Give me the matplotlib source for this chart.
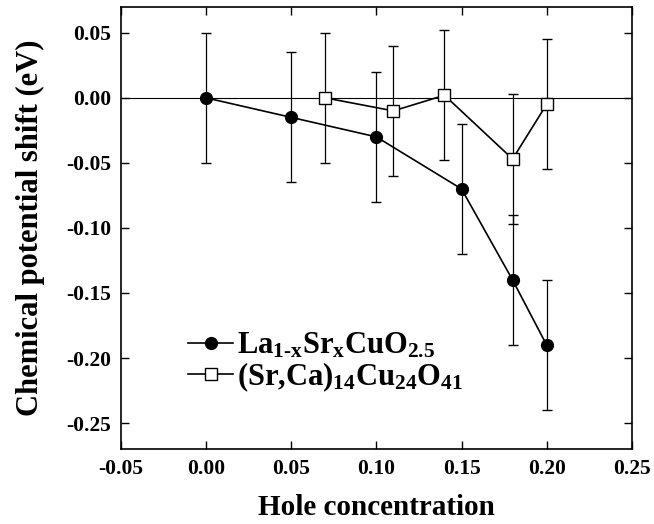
import matplotlib
matplotlib.use("Agg")
import matplotlib.pyplot as plt

plt.rcParams["font.family"] = ["Liberation Serif", "DejaVu Serif"]
plt.rcParams["font.weight"] = "bold"
plt.rcParams["mathtext.fontset"] = "custom"
plt.rcParams["mathtext.rm"] = "Liberation Serif:bold"
plt.rcParams["mathtext.it"] = "Liberation Serif:bold"
plt.rcParams["mathtext.bf"] = "Liberation Serif:bold"

# La(1-x)Sr(x)CuO2.5
lsco_x = [0.00, 0.05, 0.10, 0.15, 0.18, 0.20]
lsco_mu = [0.000, -0.015, -0.030, -0.070, -0.140, -0.190]
lsco_err = [0.05, 0.05, 0.05, 0.05, 0.05, 0.05]

# (Sr,Ca)14Cu24O41
ladder_x = [0.07, 0.11, 0.14, 0.18, 0.20]
ladder_mu = [0.000, -0.010, 0.002, -0.047, -0.005]
ladder_err = [0.05, 0.05, 0.05, 0.05, 0.05]

xticks = [-0.05, 0.00, 0.05, 0.10, 0.15, 0.20, 0.25]
yticks = [0.05, 0.00, -0.05, -0.10, -0.15, -0.20, -0.25]

fig = plt.figure(figsize=(6.54, 5.24), dpi=100)
ax = fig.add_axes([0.185, 0.143, 0.781, 0.844])

ax.axhline(0, color="black", lw=0.8, zorder=1)

eb1 = ax.errorbar(lsco_x, lsco_mu, yerr=lsco_err, color="black", lw=1.2,
                  marker="o", ms=8.5, mfc="black", mec="black",
                  capsize=3.5, capthick=1.0, elinewidth=0.9, zorder=3)
eb2 = ax.errorbar(ladder_x, ladder_mu, yerr=ladder_err, color="black", lw=1.2,
                  marker="s", ms=8.5, mfc="white", mec="black", mew=1.0,
                  capsize=3.5, capthick=1.0, elinewidth=0.9, zorder=3)

ax.set_xlim(-0.05, 0.25)
ax.set_ylim(-0.27, 0.07)
ax.set_xticks(xticks)
ax.set_yticks(yticks)
ax.set_xticklabels([f"{v:.2f}" for v in xticks])
ax.set_yticklabels([f"{v:.2f}" for v in yticks])
ax.tick_params(direction="in", top=True, right=True, length=6, width=1,
               labelsize=15.5, pad=7)
for s in ax.spines.values():
    s.set_linewidth(1.2)

ax.set_xlabel("Hole concentration", fontsize=21, fontweight="bold", labelpad=11)
ax.set_ylabel("Chemical potential shift (eV)", fontsize=22, fontweight="bold", labelpad=15)

leg = ax.legend([eb1[0], eb2[0]],
                [r"La$_{\text{1-x}}$Sr$_{\text{x}}$CuO$_{\text{2.5}}$",
                 r"(Sr,Ca)$_{\text{14}}$Cu$_{\text{24}}$O$_{\text{41}}$"],
                loc="lower left", bbox_to_anchor=(0.132, 0.125), frameon=False,
                fontsize=22, handlelength=1.45, handletextpad=0.15,
                labelspacing=0.0, borderaxespad=0, borderpad=0)

fig.savefig("out.png", dpi=100)
